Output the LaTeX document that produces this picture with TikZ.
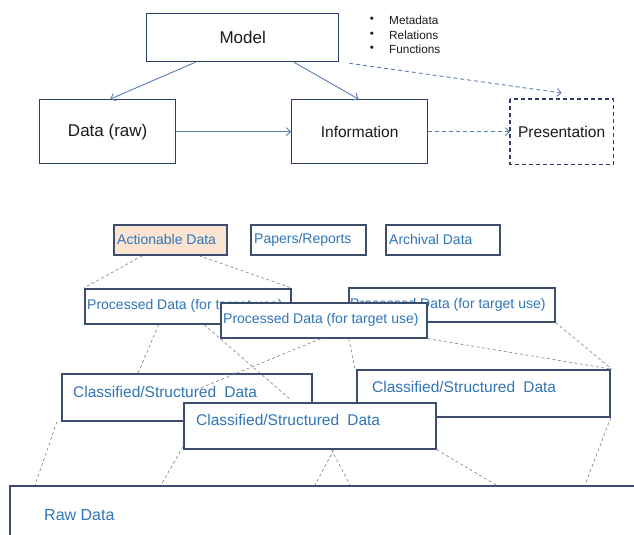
\documentclass[tikz,border=0pt]{standalone}
\usepackage{fontspec}
\setmainfont{Liberation Sans}
\usetikzlibrary{arrows.meta,calc}
\definecolor{navy}{HTML}{2C3E63}
\definecolor{arrowc}{HTML}{5A7DB3}
\definecolor{txtblue}{HTML}{2F75B8}
\definecolor{slate}{HTML}{3D4D6E}
\definecolor{peach}{HTML}{FBE4D2}
\definecolor{dgray}{HTML}{808080}
\definecolor{ink}{HTML}{1A1A1A}
\begin{document}
\begin{tikzpicture}[x=1pt,y=-1pt,
 topbox/.style={draw=navy,line width=1.3pt,fill=white,inner sep=0pt,anchor=north west,text=ink},
 lowbox/.style={draw=slate,line width=1.7pt,fill=white,inner sep=0pt,anchor=north west},
 lbl/.style={inner sep=0pt,anchor=west,text=txtblue},
 conn/.style={draw=arrowc,line width=0.9pt,-{Straight Barb[length=4pt,width=8pt]}},
 dconn/.style={conn,dash pattern=on 4pt off 3pt},
 dl/.style={draw=dgray,line width=0.6pt,dash pattern=on 3pt off 2.5pt},
 bul/.style={inner sep=0pt,anchor=center,text=ink,font=\fontsize{11.5}{13}\selectfont},
 bult/.style={inner sep=0pt,anchor=west,text=ink,font=\fontsize{11.8}{14}\selectfont},
]
\useasboundingbox (0,0) rectangle (634,535);
\clip (0,0) rectangle (634,535);

% ---------- top diagram ----------
\node[topbox,minimum width=192pt,minimum height=48pt,font=\fontsize{17}{20}\selectfont] (model) at (146,13) {Model};
\node[topbox,minimum width=136pt,minimum height=64pt,font=\fontsize{17}{20}\selectfont] (data) at (39,99) {Data (raw)};
\node[topbox,minimum width=136pt,minimum height=64pt,font=\fontsize{15.5}{18}\selectfont] (info) at (291,99) {Information};
\node[topbox,draw=none,minimum width=102pt,minimum height=64pt,font=\fontsize{15.5}{18}\selectfont] (pres) at (510,99) {Presentation};
\draw[navy,line width=1.3pt,dash pattern=on 4pt off 3pt] (pres.north west) rectangle (pres.south east);

\node[bul] (b1) at (372,20) {\textbullet};
\node[bul] (b2) at (372,35) {\textbullet};
\node[bul] (b3) at (372,49) {\textbullet};
\node[bult] (t1) at (389,20) {Metadata};
\node[bult] (t2) at (389,35) {Relations};
\node[bult] (t3) at (389,49) {Functions};

\coordinate (presin) at ($(pres.north)+(0,-6)$);
\draw[conn] ($(model.south west)!0.255!(model.south east)$) -- ($(data.north west)!0.52!(data.north east)$);
\draw[conn] ($(model.south west)!0.766!(model.south east)$) -- ($(info.north west)!0.49!(info.north east)$);
\draw[conn] (data.east) -- (info.west);
\draw[dconn] (info.east) -- (pres.west);
\draw[dconn] ($(model.south east)+(10,1)$) -- (presin);

% ---------- bottom diagram ----------
\node[lowbox,fill=peach,minimum width=113pt,minimum height=30pt] (act) at (113,224) {};
\node[lbl,font=\fontsize{14}{16}\selectfont] (actt) at ($(act.west)+(4,0)$) {Actionable Data};
\node[lowbox,minimum width=115pt,minimum height=30pt] (pap) at (250,224) {};
\node[lbl,font=\fontsize{14}{16}\selectfont] (papt) at ($(pap.west)+(4,0)$) {Papers/Reports};
\node[lowbox,minimum width=114pt,minimum height=30pt] (arc) at (385,224) {};
\node[lbl,font=\fontsize{14}{16}\selectfont] (arct) at ($(arc.west)+(4,0)$) {Archival Data};

\node[lowbox,minimum width=206pt,minimum height=35pt] (p1) at (84,288) {};
\node[lbl,font=\fontsize{14}{16}\selectfont] (p1t) at ($(p1.west)+(3,0)$) {Processed Data (for target use)};
\node[lowbox,minimum width=206pt,minimum height=34pt] (p3) at (348,287) {};
\node[lbl,font=\fontsize{14}{16}\selectfont] (p3t) at ($(p3.west)+(2,0)$) {Processed Data (for target use)};

\draw[dl] ($(act.south west)!0.257!(act.south east)$) -- (p1.north west);
\draw[dl] ($(act.south west)!0.75!(act.south east)$) -- (p1.north east);

\node[lowbox,minimum width=206pt,minimum height=35pt] (p2) at (220,302) {};
\node[lbl,font=\fontsize{14}{16}\selectfont] (p2t) at ($(p2.west)+(3,0)$) {Processed Data (for target use)};

\node[lowbox,minimum width=641pt,minimum height=70pt] (raw) at (9,485) {};
\node[lbl,font=\fontsize{16}{19}\selectfont] (rawt) at ($(raw.north west)+(35,30)$) {Raw Data};

\node[lowbox,minimum width=250pt,minimum height=47pt] (c1) at (61,373) {};
\node[lbl,font=\fontsize{15.5}{18}\selectfont] (c1t) at ($(c1.north west)+(12,19)$) {Classified/Structured\hspace{0.25em} Data};

\draw[dl] ($(p1.south west)!0.36!(p1.south east)$) -- ($(c1.north west)!0.306!(c1.north east)$);
\draw[dl] ($(p2.south west)!0.62!(p2.south east)$) -- ($(c1.north west)+(294,-4)$);
\draw[dl] (p2.south east) -- ($(c1.north east)+(298,-4)$);
\draw[dl] (p3.south east) -- ($(c1.north east)+(299,-4)$);
\draw[dl] ($(c1.south west)+(-4,0)$) -- ($(raw.north west)+(26,0)$);
\draw[dl] ($(p1.south west)!0.578!(p1.south east)$) -- ($(c1.north west)+(230,27)$);
\draw[dl] ($(p2.south west)!0.485!(p2.south east)$) -- ($(c1.north west)+(137,16)$);

\node[lowbox,minimum width=253pt,minimum height=47pt] (c3) at (356,369) {};
\node[lbl,font=\fontsize{15.5}{18}\selectfont] (c3t) at ($(c3.north west)+(16,18)$) {Classified/Structured\hspace{0.25em} Data};

\node[lowbox,minimum width=252pt,minimum height=46pt] (c2) at (183,402) {};
\node[lbl,font=\fontsize{15.5}{18}\selectfont] (c2t) at ($(c2.north west)+(13,18)$) {Classified/Structured\hspace{0.25em} Data};

\draw[dl] ($(c2.south west)+(0,-3)$) -- ($(raw.north west)+(152,0)$);
\draw[dl] ($(c2.south west)!0.595!(c2.south east)$) -- ($(raw.north west)+(306,0)$);
\draw[dl] ($(c2.south west)!0.585!(c2.south east)$) -- ($(raw.north west)+(341,0)$);
\draw[dl] (c2.south east) -- ($(raw.north west)+(487,0)$);
\draw[dl] (c3.south east) -- ($(raw.north west)+(576,0)$);
\end{tikzpicture}
\end{document}
